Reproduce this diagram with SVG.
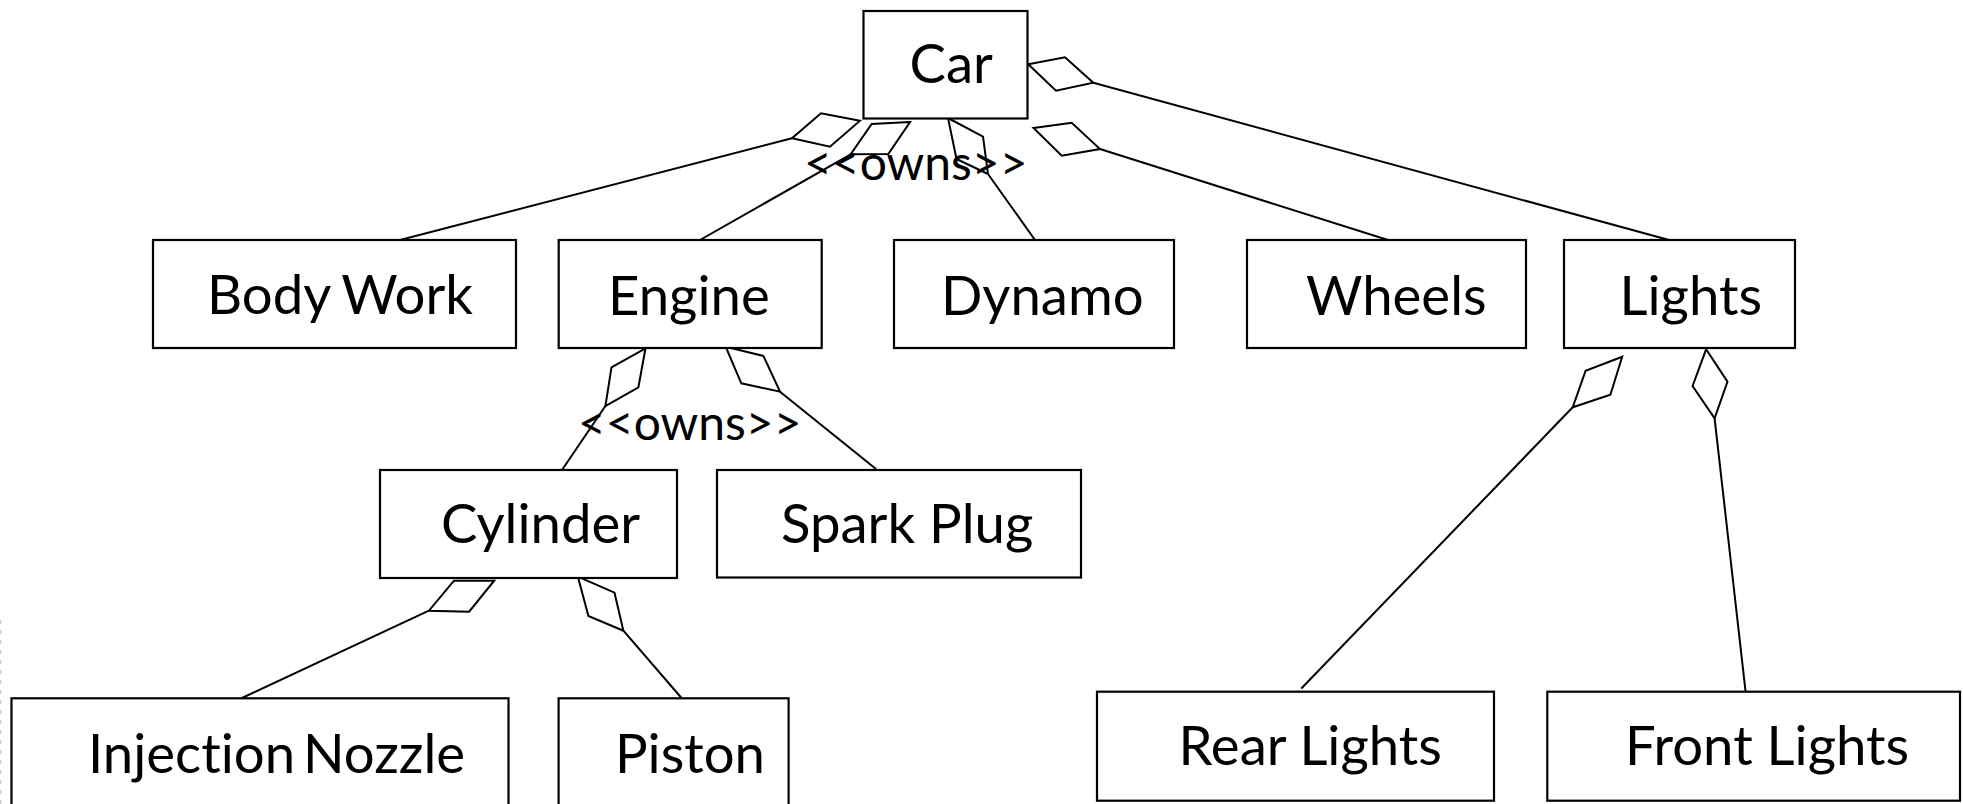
<svg xmlns="http://www.w3.org/2000/svg" width="1963" height="804" viewBox="0 0 1963 804">
<style>
.box{fill:#fff;stroke:#000;stroke-width:2.2}
.lbl{font-family:Lato,"Liberation Sans",sans-serif;font-size:54.5px;fill:#000;font-variant-ligatures:none}
.own{font-family:Lato,"Liberation Sans",sans-serif;font-size:48px;fill:#000}
.ln{fill:none;stroke:#000;stroke-width:2}
.dm{fill:#fff;stroke:#000;stroke-width:2;stroke-linejoin:miter}
</style>
<rect width="1963" height="804" fill="#fff"/>
<line x1="0.7" y1="620" x2="0.7" y2="804" stroke="#c5ccd6" stroke-width="1.4" stroke-dasharray="4,6"/>
<g id="connectors">
<line class="ln" x1="792" y1="138.3" x2="400" y2="240"/>
<polygon class="dm" points="860,120.7 821,113.3 792,138.3 830,146.7"/>
<line class="ln" x1="850.7" y1="154.3" x2="700" y2="240"/>
<polygon class="dm" points="910,122 871.7,124 850.7,154.3 888.3,154"/>
<line class="ln" x1="988" y1="174" x2="1035" y2="240"/>
<polygon class="dm" points="948,118 983,136.7 988,174 956.5,159"/>
<line class="ln" x1="1100" y1="149" x2="1388" y2="240"/>
<polygon class="dm" points="1033.5,128 1071.7,122.7 1100,149 1061.7,155.7"/>
<line class="ln" x1="1093.3" y1="82.7" x2="1669" y2="240"/>
<polygon class="dm" points="1028.3,64.3 1065,57.3 1093.3,82.7 1056,90.7"/>
<line class="ln" x1="605.4" y1="406" x2="562" y2="470"/>
<polygon class="dm" points="645.5,348.3 611.5,367.3 605.4,406 638.4,387.3"/>
<line class="ln" x1="780" y1="391.7" x2="876" y2="469"/>
<polygon class="dm" points="725.7,346.7 763.5,356 780,391.7 741.3,383.3"/>
<line class="ln" x1="428.9" y1="610.7" x2="242" y2="698"/>
<polygon class="dm" points="494.2,580.7 454,580.7 428.9,610.7 469.1,611.7"/>
<line class="ln" x1="623.4" y1="630.7" x2="681.5" y2="698"/>
<polygon class="dm" points="577.9,576.7 614.5,592.7 623.4,630.7 588.4,616"/>
<line class="ln" x1="1572.7" y1="407.3" x2="1301.3" y2="688.5"/>
<polygon class="dm" points="1622.2,356.7 1585.6,370.7 1572.7,407.3 1610.4,394.7"/>
<line class="ln" x1="1714.6" y1="418.3" x2="1745.5" y2="691"/>
<polygon class="dm" points="1706.1,349.3 1727.5,381.7 1714.6,418.3 1692.6,386"/>
<text class="own" x="804" y="180">&lt;&lt;owns&gt;&gt;</text>
<text class="own" x="578" y="440">&lt;&lt;owns&gt;&gt;</text>
</g>
<g id="car"><rect class="box" x="863.5" y="11" width="164" height="107.5"/><text class="lbl" x="909.5" y="83" font-size="56">Car</text></g>
<g id="bodywork"><rect class="box" x="153" y="240" width="363" height="108"/><text class="lbl" x="207" y="314" word-spacing="-2">Body Work</text></g>
<g id="engine"><rect class="box" x="558.7" y="240" width="263" height="108"/><text class="lbl" x="608" y="315">Engine</text></g>
<g id="dynamo"><rect class="box" x="894" y="240" width="280" height="108"/><text class="lbl" x="941" y="315">Dynamo</text></g>
<g id="wheels"><rect class="box" x="1247" y="240" width="279" height="108"/><text class="lbl" x="1306" y="315">Wheels</text></g>
<g id="lights"><rect class="box" x="1564" y="240" width="231" height="108"/><text class="lbl" x="1619.5" y="315">Lights</text></g>
<g id="cylinder"><rect class="box" x="380" y="470" width="297" height="108"/><text class="lbl" x="441" y="543" font-size="55.5">Cylinder</text></g>
<g id="sparkplug"><rect class="box" x="717" y="470" width="364" height="107.5"/><text class="lbl" x="781" y="543">Spark Plug</text></g>
<g id="injectionnozzle"><rect class="box" x="11.5" y="698.3" width="497" height="110"/><text class="lbl" x="88" y="773" word-spacing="-6">Injection Nozzle</text></g>
<g id="piston"><rect class="box" x="558.6" y="698.3" width="230" height="110"/><text class="lbl" x="615" y="773">Piston</text></g>
<g id="rearlights"><rect class="box" x="1097" y="691.7" width="397" height="109"/><text class="lbl" x="1178.5" y="765">Rear Lights</text></g>
<g id="frontlights"><rect class="box" x="1547.3" y="691.7" width="412.7" height="109"/><text class="lbl" x="1625" y="765">Front Lights</text></g>
</svg>
